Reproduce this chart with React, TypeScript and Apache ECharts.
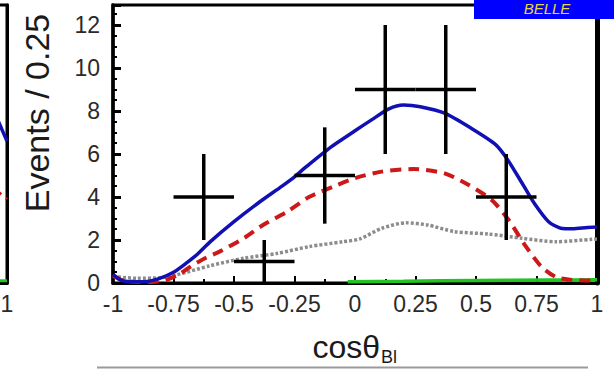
import React, { useEffect, useRef } from 'react';
import * as echarts from 'echarts';

// ---- data ----
const binCenters = [-0.625, -0.375, -0.125, 0.125, 0.375, 0.625];
const binCounts = [4, 1, 5, 9, 9, 4];
const binHalfWidth = 0.125;
const binErrors = [2.0, 1.0, 2.24, 3.0, 3.0, 2.0];

const totalX = [-1, -0.97, -0.93, -0.87, -0.81, -0.75, -0.7, -0.65, -0.6, -0.5, -0.4, -0.3, -0.25, -0.2, -0.1, 0, 0.07, 0.14, 0.2, 0.27, 0.37, 0.48, 0.58, 0.63, 0.69, 0.74, 0.8, 0.85, 0.9, 0.96, 1];
const totalY = [0.4, 0.15, 0.06, 0.06, 0.2, 0.5, 0.9, 1.35, 1.9, 2.85, 3.72, 4.52, 4.94, 5.42, 6.32, 7.08, 7.6, 8.1, 8.28, 8.2, 7.9, 7.2, 6.45, 5.75, 4.65, 3.72, 2.85, 2.55, 2.52, 2.58, 2.6];

const signalX = [-1, -0.96, -0.9, -0.84, -0.78, -0.72, -0.68, -0.62, -0.56, -0.46, -0.38, -0.28, -0.19, -0.09, 0, 0.11, 0.24, 0.37, 0.47, 0.565, 0.635, 0.7, 0.77, 0.83, 0.89, 0.95, 1];
const signalY = [0.35, 0.12, 0.05, 0.05, 0.15, 0.45, 0.76, 1.15, 1.46, 2.08, 2.7, 3.32, 4.0, 4.48, 4.88, 5.18, 5.3, 5.1, 4.56, 3.86, 2.93, 1.8, 0.76, 0.28, 0.15, 0.12, 0.12];

const bkgX = [-1, -0.9, -0.8, -0.74, -0.6, -0.46, -0.32, -0.19, -0.05, 0.02, 0.11, 0.21, 0.3, 0.41, 0.55, 0.69, 0.83, 0.98, 1];
const bkgY = [0.3, 0.22, 0.25, 0.37, 0.8, 1.15, 1.38, 1.69, 1.92, 2.05, 2.54, 2.8, 2.7, 2.39, 2.28, 2.08, 1.92, 2.03, 2.05];

const otherX = [-0.03, 0.2, 0.5, 0.8, 1];
const otherY = [0.06, 0.08, 0.12, 0.14, 0.15];

// remnants of the neighbouring (left) panel
const leftX = [0.9, 1];
const leftTotalY = [7.7, 6.6];
const leftSignalY = [4.3, 3.9];
const leftOtherY = [0.1, 0.1];

const xMin = -1;
const xMax = 1;
const xInterval = 0.25;
const yMin = 0;
const yMax = 12.93;
const yInterval = 2;

const zip = (xs: number[], ys: number[]) => xs.map((x, i) => [x, ys[i]]);

const FONT = 'Liberation Sans';

export default function App() {
  const ref = useRef<HTMLDivElement>(null);
  useEffect(() => {
    if (!ref.current) return;
    const chart = echarts.init(ref.current, undefined, { renderer: 'svg' });
    const blue = '#1010b4';
    const red = '#cc1818';
    const gray = '#8c8c8c';
    const green = '#22c422';

    const errData = binCenters.map((c, i) => [c, binCounts[i], binHalfWidth, binErrors[i]]);

    chart.setOption({
      animation: false,
      backgroundColor: '#fff',
      grid: [
        { left: 113, top: 5, width: 484, height: 278, show: true, borderColor: '#000', borderWidth: 3, backgroundColor: 'transparent', outerBoundsMode: 'none', containLabel: false },
        { left: -200, top: 5, width: 207, height: 278, show: true, borderColor: '#000', borderWidth: 3, backgroundColor: 'transparent', outerBoundsMode: 'none', containLabel: false },
      ],
      xAxis: [
        {
          type: 'value', gridIndex: 0, min: xMin, max: xMax, interval: xInterval,
          axisLine: { show: true, onZero: false, lineStyle: { color: '#000', width: 3 } },
          axisTick: { show: true, inside: true, length: 7, lineStyle: { color: '#000', width: 2 } },
          minorTick: { show: true, splitNumber: 2, length: 4, lineStyle: { color: '#000', width: 2 } },
          splitLine: { show: false },
          axisLabel: { margin: 9, fontSize: 23, color: '#2a2a2a', fontFamily: FONT },
        },
        {
          type: 'value', gridIndex: 1, min: xMin, max: xMax, interval: xInterval,
          axisLine: { show: true, onZero: false, lineStyle: { color: '#000', width: 3 } },
          axisTick: { show: false },
          splitLine: { show: false },
          axisLabel: { margin: 9, fontSize: 23, color: '#2a2a2a', fontFamily: FONT, formatter: (v: number) => (v === 1 ? '1' : '') },
        },
      ],
      yAxis: [
        {
          type: 'value', gridIndex: 0, min: yMin, max: yMax, interval: yInterval,
          axisLine: { show: true, onZero: false, lineStyle: { color: '#000', width: 3.5 } },
          axisTick: { show: true, inside: true, length: 8, lineStyle: { color: '#000', width: 3 } },
          minorTick: { show: true, splitNumber: 4, length: 4, lineStyle: { color: '#000', width: 2 } },
          splitLine: { show: false },
          axisLabel: { margin: 13, fontSize: 23, color: '#2a2a2a', fontFamily: FONT, formatter: (v: number) => (v % 2 === 0 ? String(v) : '') },
        },
        {
          type: 'value', gridIndex: 0, position: 'right', min: yMin, max: yMax, interval: yInterval,
          axisLine: { show: true, onZero: false, lineStyle: { color: '#000', width: 5 } },
          axisTick: { show: false }, axisLabel: { show: false }, splitLine: { show: false },
        },
        {
          type: 'value', gridIndex: 1, position: 'right', min: yMin, max: yMax, interval: yInterval,
          axisLine: { show: true, onZero: false, lineStyle: { color: '#000', width: 3 } },
          axisTick: { show: false }, axisLabel: { show: false }, splitLine: { show: false },
        },
      ],
      series: [
        {
          type: 'line', xAxisIndex: 0, yAxisIndex: 0, data: zip(otherX, otherY), showSymbol: false, smooth: 0.2,
          lineStyle: { color: green, width: 3.5 }, z: 2,
        },
        {
          type: 'line', xAxisIndex: 0, yAxisIndex: 0, data: zip(bkgX, bkgY), showSymbol: false, smooth: 0.25,
          lineStyle: { color: gray, width: 3.5, type: [3, 2] }, z: 3,
        },
        {
          type: 'line', xAxisIndex: 0, yAxisIndex: 0, data: zip(signalX, signalY), showSymbol: false, smooth: 0.25,
          lineStyle: { color: red, width: 4, type: [11, 7] }, z: 4,
        },
        {
          type: 'line', xAxisIndex: 0, yAxisIndex: 0, data: zip(totalX, totalY), showSymbol: false, smooth: 0.25,
          lineStyle: { color: blue, width: 3.5 }, z: 5,
        },
        {
          type: 'custom', xAxisIndex: 0, yAxisIndex: 0, data: errData, z: 6,
          encode: { x: 0, y: 1 },
          renderItem: (_params: any, api: any) => {
            const x = api.value(0);
            const y = api.value(1);
            const ex = api.value(2);
            const ey = api.value(3);
            const l = api.coord([x - ex, y]);
            const r = api.coord([x + ex, y]);
            const t = api.coord([x, y + ey]);
            const b = api.coord([x, y - ey]);
            const st = { stroke: '#000', lineWidth: 3.5 };
            return {
              type: 'group',
              children: [
                { type: 'line', shape: { x1: l[0], y1: l[1], x2: r[0], y2: r[1] }, style: st },
                { type: 'line', shape: { x1: t[0], y1: t[1], x2: b[0], y2: b[1] }, style: st },
              ],
            };
          },
        },
        {
          type: 'line', xAxisIndex: 1, yAxisIndex: 2, data: zip(leftX, leftOtherY), showSymbol: false,
          lineStyle: { color: green, width: 3 },
        },
        {
          type: 'line', xAxisIndex: 1, yAxisIndex: 2, data: zip(leftX, leftSignalY), showSymbol: false,
          lineStyle: { color: red, width: 3, type: [6, 6] },
        },
        {
          type: 'line', xAxisIndex: 1, yAxisIndex: 2, data: zip(leftX, leftTotalY), showSymbol: false,
          lineStyle: { color: blue, width: 3.5 },
        },
      ],
      graphic: [
        { type: 'rect', shape: { x: 474, y: 0, width: 140, height: 19 }, style: { fill: '#0000ff' }, z: 100 },
        {
          type: 'text', x: 547, y: 8, z: 101,
          style: { text: 'BELLE', fill: '#e6d840', font: `italic 15px "${FONT}"`, align: 'center', verticalAlign: 'middle' },
        },
        {
          type: 'text', x: 37, y: 113, rotation: Math.PI / 2, z: 50,
          style: { text: 'Events / 0.25', fill: '#1a1a1a', font: `34px "${FONT}"`, align: 'center', verticalAlign: 'middle' },
        },
        {
          type: 'text', x: 380, y: 347, z: 50,
          style: { text: 'cosθ', fill: '#1a1a1a', font: `32px "${FONT}"`, align: 'right', verticalAlign: 'middle' },
        },
        {
          type: 'text', x: 381, y: 357, z: 50,
          style: { text: 'Bl', fill: '#1a1a1a', font: `18px "${FONT}"`, align: 'left', verticalAlign: 'middle' },
        },
        {
          type: 'line', shape: { x1: 97, y1: 367.5, x2: 588, y2: 367.5 }, style: { stroke: '#9a9a9a', lineWidth: 2 }, z: 50,
        },
      ],
    });
    return () => chart.dispose();
  }, []);
  return <div ref={ref} style={{ position: 'absolute', left: 0, top: 0, width: 614, height: 369 }} />;
}
